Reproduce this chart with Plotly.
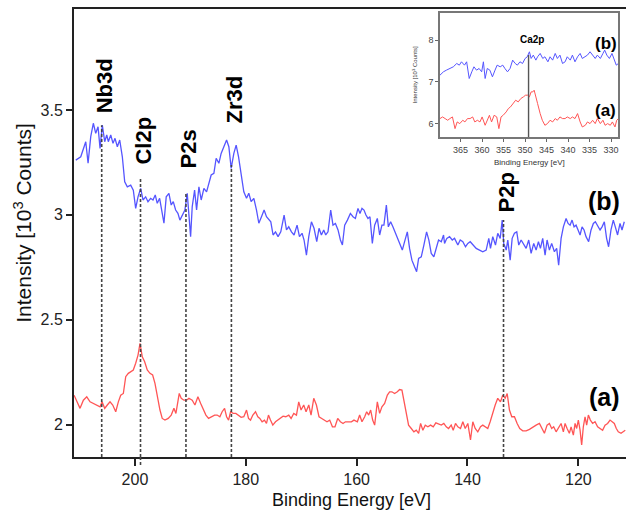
import plotly.graph_objects as go

# ---- main XPS spectra (binding energy in eV, intensity in 10^3 counts) ----
be_b = [210.68, 209.78, 208.88, 208.46, 207.98, 207.51, 207.08, 206.66, 206.30, 205.89,
        205.46, 205.09, 204.81, 204.37, 203.96, 203.60, 203.18, 202.75, 202.28, 201.85,
        201.38, 200.77, 200.30, 199.87, 199.45, 198.97, 198.55, 198.07, 197.65, 197.17,
        196.75, 196.34, 195.98, 195.55, 195.18, 194.77, 194.36, 193.87, 193.46, 193.09,
        192.66, 192.25, 191.89, 191.47, 190.99, 190.57, 190.27, 189.96, 189.67, 189.24,
        188.88, 188.46, 188.05, 187.56, 187.08, 186.66, 186.25, 185.76, 185.35, 184.86,
        184.45, 183.96, 183.47, 183.06, 182.64, 182.16, 181.74, 181.31, 180.84, 180.36,
        179.87, 179.46, 179.04, 178.55, 178.07, 177.65, 177.17, 176.70, 176.27, 175.85,
        175.49, 175.08, 174.64, 174.18, 173.69, 173.09, 172.66, 172.25, 171.76, 171.29,
        170.75, 170.32, 169.85, 169.49, 169.06, 168.64, 168.16, 167.69, 167.20, 166.79,
        166.36, 165.94, 165.58, 165.17, 164.68, 164.27, 163.83, 163.36, 162.93, 162.57,
        162.16, 161.67, 161.13, 160.66, 160.23, 159.76, 159.40, 159.04, 158.68, 158.32,
        157.96, 157.60, 157.17, 156.75, 156.27, 155.85, 155.44, 155.08, 154.64, 154.28,
        153.87, 153.46, 153.02, 152.55, 152.12, 151.76, 151.35, 150.86, 150.45, 150.03,
        149.55, 149.18, 148.82, 148.34, 147.87, 147.38, 146.97, 146.54, 146.07, 145.64,
        145.22, 144.73, 144.32, 144.14, 143.73, 143.24, 142.75, 142.34, 141.74, 141.31,
        140.84, 140.36, 139.94, 139.51, 139.04, 138.43, 137.83, 137.24, 136.63, 136.16,
        135.85, 135.44, 134.95, 134.54, 134.10, 133.74, 133.46, 133.02, 132.73, 132.30,
        131.94, 131.53, 131.11, 130.75, 130.32, 129.91, 129.42, 128.95, 128.52, 128.05,
        127.62, 127.20, 126.84, 126.43, 126.00, 125.64, 125.22, 124.81, 124.32, 123.91,
        123.55, 123.11, 122.70, 122.21, 121.85, 121.49, 121.13, 120.77, 120.41, 120.05,
        119.69, 119.33, 118.97, 118.61, 118.14, 117.71, 117.29, 116.93, 116.52, 116.08,
        115.72, 115.31, 114.90, 114.54, 114.11, 113.69, 113.33, 112.92, 112.48, 112.12,
        111.71]
int_b = [3.261, 3.277, 3.349, 3.247, 3.373, 3.437, 3.389, 3.420, 3.317, 3.428,
         3.349, 3.381, 3.349, 3.381, 3.341, 3.365, 3.325, 3.357, 3.277, 3.158,
         3.134, 3.142, 3.118, 3.031, 3.086, 3.126, 3.071, 3.086, 3.063, 3.079,
         3.071, 3.095, 3.055, 3.079, 3.023, 2.960, 3.086, 3.103, 3.047, 3.063,
         3.023, 3.007, 2.975, 2.999, 3.023, 3.103, 2.975, 2.896, 3.039, 3.118,
         3.023, 3.134, 3.071, 3.126, 3.110, 3.150, 3.190, 3.198, 3.270, 3.246,
         3.293, 3.325, 3.357, 3.325, 3.222, 3.293, 3.333, 3.277, 3.190, 3.110,
         3.079, 3.103, 3.063, 3.079, 3.023, 2.960, 2.991, 3.023, 2.991, 2.975,
         2.967, 2.904, 2.919, 2.896, 2.919, 2.999, 2.928, 2.943, 2.919, 2.904,
         2.951, 2.896, 2.912, 2.880, 2.808, 2.896, 2.967, 2.936, 2.872, 2.936,
         2.904, 2.928, 2.904, 2.919, 3.023, 2.951, 2.959, 2.928, 2.880, 2.856,
         2.951, 2.975, 3.007, 2.991, 2.983, 3.031, 3.007, 3.031, 3.023, 2.999,
         2.983, 2.991, 2.864, 2.951, 2.983, 2.904, 2.951, 2.951, 3.047, 2.943,
         2.967, 2.943, 2.912, 2.888, 2.856, 2.832, 2.872, 2.919, 2.840, 2.784,
         2.752, 2.729, 2.792, 2.800, 2.856, 2.919, 2.880, 2.816, 2.800, 2.840,
         2.880, 2.872, 2.904, 2.864, 2.888, 2.896, 2.880, 2.888, 2.856, 2.880,
         2.872, 2.848, 2.864, 2.872, 2.856, 2.840, 2.832, 2.824, 2.832, 2.888,
         2.840, 2.896, 2.856, 2.912, 2.888, 2.975, 2.864, 2.832, 2.880, 2.784,
         2.888, 2.912, 2.919, 2.856, 2.880, 2.864, 2.840, 2.880, 2.816, 2.864,
         2.832, 2.872, 2.840, 2.888, 2.808, 2.880, 2.832, 2.864, 2.824, 2.840,
         2.760, 2.888, 2.943, 2.983, 2.959, 2.951, 2.975, 2.943, 2.951, 2.928,
         2.904, 2.943, 2.928, 2.896, 2.872, 2.928, 2.959, 2.967, 2.951, 2.928,
         2.943, 2.967, 2.888, 2.848, 2.928, 2.975, 2.943, 2.904, 2.959, 2.928,
         2.967]

be_a = [210.99, 210.50, 209.91, 209.31, 208.70, 208.10, 207.51, 206.90, 206.30, 205.94,
        205.46, 204.99, 204.50, 204.01, 203.47, 203.00, 202.57, 202.10, 201.67, 201.20,
        200.77, 200.30, 199.87, 199.45, 199.09, 198.68, 198.25, 197.78, 197.29, 196.81,
        196.39, 195.98, 195.49, 195.08, 194.59, 194.00, 193.46, 192.97, 192.61, 192.01,
        191.65, 191.17, 190.68, 190.27, 189.67, 189.18, 188.64, 188.16, 187.69, 187.20,
        186.72, 186.12, 185.63, 185.17, 184.68, 184.27, 183.83, 183.47, 183.11, 182.75,
        182.28, 181.80, 181.31, 180.84, 180.36, 179.87, 179.51, 179.15, 178.73, 178.25,
        177.83, 177.47, 177.06, 176.63, 176.27, 175.91, 175.55, 175.13, 174.64, 174.23,
        173.74, 173.28, 172.79, 172.25, 171.83, 171.35, 170.86, 170.45, 170.03, 169.55,
        169.13, 168.64, 168.23, 167.74, 167.26, 166.79, 166.30, 165.82, 165.35, 164.86,
        164.37, 163.91, 163.42, 162.93, 162.46, 162.03, 161.56, 160.95, 160.48, 159.87,
        159.46, 159.04, 158.55, 158.19, 157.83, 157.47, 157.11, 156.75, 156.27, 155.85,
        155.44, 154.95, 154.46, 154.05, 153.64, 153.15, 152.66, 152.25, 151.83, 151.47,
        151.04, 150.63, 150.14, 149.67, 149.24, 148.82, 148.46, 148.05, 147.62, 147.15,
        146.66, 146.18, 145.71, 145.22, 144.73, 144.27, 143.83, 143.42, 142.94, 142.58,
        142.16, 141.74, 141.26, 140.84, 140.41, 139.94, 139.46, 139.04, 138.61, 138.14,
        137.65, 137.24, 136.81, 136.34, 135.91, 135.44, 135.00, 134.54, 134.05, 133.64,
        133.20, 132.84, 132.43, 132.01, 131.53, 131.04, 130.57, 130.03, 129.42, 128.82,
        128.23, 127.62, 127.02, 126.61, 126.12, 125.64, 125.22, 124.81, 124.45, 124.01,
        123.60, 123.11, 122.70, 122.39, 122.03, 121.62, 121.31, 120.90, 120.59, 120.30,
        120.00, 119.69, 119.40, 119.10, 118.79, 118.50, 118.19, 117.83, 117.42, 116.99,
        116.52, 116.03, 115.62, 115.18, 114.72, 114.28, 113.87, 113.51, 113.15, 112.79,
        112.30, 111.83, 111.53]
int_a = [2.140, 2.108, 2.077, 2.116, 2.132, 2.108, 2.101, 2.093, 2.084, 2.108,
         2.077, 2.093, 2.108, 2.093, 2.061, 2.108, 2.140, 2.148, 2.228, 2.244,
         2.251, 2.260, 2.292, 2.331, 2.387, 2.323, 2.299, 2.260, 2.244, 2.236,
         2.196, 2.132, 2.069, 2.029, 2.021, 2.029, 2.045, 2.077, 2.053, 2.148,
         2.125, 2.116, 2.116, 2.125, 2.116, 2.093, 2.132, 2.101, 2.069, 2.045,
         2.029, 2.037, 2.045, 2.045, 2.037, 2.061, 2.077, 2.037, 2.021, 2.061,
         2.053, 2.053, 2.045, 2.034, 2.037, 2.069, 2.029, 2.021, 2.045, 2.061,
         2.037, 2.029, 2.013, 2.021, 2.005, 2.045, 2.021, 1.997, 2.013, 2.021,
         2.034, 2.040, 2.037, 2.045, 2.029, 2.053, 2.045, 2.108, 2.069, 2.093,
         2.061, 2.093, 2.045, 2.125, 2.093, 2.037, 2.029, 2.021, 2.013, 2.021,
         1.989, 1.989, 2.029, 2.013, 2.005, 2.013, 2.013, 2.013, 2.021, 2.013,
         2.045, 2.013, 2.037, 2.061, 2.045, 2.069, 2.021, 1.997, 2.108, 2.053,
         2.084, 2.101, 2.140, 2.156, 2.156, 2.148, 2.156, 2.167, 2.164, 2.116,
         2.053, 1.997, 1.981, 1.965, 1.973, 1.958, 2.005, 1.973, 1.997, 1.989,
         1.997, 1.989, 2.008, 2.002, 1.997, 2.005, 1.989, 1.981, 1.997, 1.973,
         2.005, 1.989, 1.981, 2.013, 1.981, 2.005, 1.926, 2.013, 1.981, 1.965,
         1.989, 1.997, 1.989, 1.981, 2.013, 2.061, 2.093, 2.125, 2.108, 2.140,
         2.125, 2.148, 2.069, 2.037, 2.037, 2.005, 1.981, 1.970, 1.970, 1.977,
         1.989, 1.997, 2.005, 1.981, 1.958, 1.997, 2.005, 1.981, 1.989, 1.965,
         1.981, 2.005, 1.965, 2.005, 1.981, 1.958, 1.989, 1.949, 2.005, 1.981,
         2.021, 1.973, 1.902, 1.989, 2.037, 1.997, 2.045, 2.021, 2.005, 2.013,
         1.989, 1.981, 1.973, 1.997, 2.005, 2.021, 2.013, 2.005, 1.981, 1.965,
         1.958, 1.965, 1.973]

# ---- peak assignments: position, top of marker line, label baseline ----
peak_names = ["Nb3d", "Cl2p", "P2s", "Zr3d", "P2p"]
peak_be = [206.0, 199.0, 190.8, 182.6, 133.5]
peak_top = [3.428, 3.176, 3.109, 3.238, 2.975]
label_base = [3.476, 3.228, 3.214, 3.428, 3.000]

# ---- Ca2p region (inset) ----
be_ca = [369.8, 369.2, 368.6, 368.0, 367.5, 366.9, 366.3, 365.8, 365.2, 364.5,
         364.0, 363.4, 362.8, 362.2, 361.7, 361.1, 360.5, 360.0, 359.3, 358.8,
         358.3, 357.8, 357.2, 356.6, 356.1, 355.6, 355.1, 354.4, 353.9, 353.4,
         352.7, 352.2, 351.6, 351.0, 350.4, 349.9, 349.4, 349.0, 348.6, 348.2,
         347.9, 347.5, 347.1, 346.5, 346.0, 345.4, 344.8, 344.2, 343.6, 343.0,
         342.5, 341.9, 341.3, 340.7, 340.2, 339.5, 339.0, 338.4, 337.8, 337.2,
         336.7, 336.0, 335.5, 334.9, 334.3, 333.7, 333.2, 332.5, 331.9, 331.4,
         330.8, 330.2, 329.7, 329.1, 328.7, 328.3]
ca_a = [6.12, 6.16, 6.12, 6.08, 6.12, 6.16, 5.88, 6.04, 6.00, 6.08,
        6.04, 6.12, 6.12, 6.16, 6.04, 6.08, 6.04, 6.16, 5.96, 6.08,
        6.20, 6.04, 6.20, 6.16, 5.88, 6.16, 6.20, 6.28, 6.36, 6.40,
        6.48, 6.56, 6.52, 6.60, 6.64, 6.68, 6.68, 6.64, 6.76, 6.76,
        6.80, 6.60, 6.48, 6.24, 6.08, 5.96, 6.00, 6.08, 6.04, 6.12,
        6.08, 6.16, 6.12, 6.12, 6.16, 6.12, 6.16, 6.12, 6.24, 6.04,
        5.92, 5.96, 6.04, 6.00, 6.08, 6.00, 6.12, 6.00, 6.08, 5.96,
        6.00, 5.96, 6.04, 5.92, 6.08, 6.12]
be_cb = [369.8, 369.0, 368.3, 367.5, 366.7, 365.9, 365.3, 364.8, 364.1, 363.6,
         363.0, 362.4, 361.9, 361.3, 360.7, 360.1, 359.7, 359.3, 358.8, 358.2,
         357.6, 357.0, 356.5, 355.8, 355.2, 354.7, 354.1, 353.5, 352.9, 352.3,
         351.8, 351.2, 350.6, 350.0, 349.5, 349.0, 348.6, 348.1, 347.5, 347.1,
         346.5, 345.9, 345.4, 344.7, 344.2, 343.6, 343.0, 342.5, 341.9, 341.3,
         340.7, 340.2, 339.5, 339.0, 338.4, 337.8, 337.2, 336.7, 336.0, 335.5,
         334.9, 334.3, 333.7, 333.2, 332.5, 331.9, 331.5, 331.0, 330.4, 329.8,
         329.3, 328.8, 328.3]
ca_b = [7.16, 7.24, 7.28, 7.32, 7.36, 7.44, 7.40, 7.48, 7.40, 7.48,
        7.08, 7.24, 7.36, 7.28, 7.32, 7.24, 7.48, 7.08, 7.32, 7.28,
        7.12, 7.28, 7.40, 7.36, 7.40, 7.32, 7.24, 7.32, 7.52, 7.44,
        7.40, 7.48, 7.44, 7.56, 7.60, 7.72, 7.56, 7.64, 7.52, 7.60,
        7.68, 7.56, 7.60, 7.48, 7.60, 7.52, 7.68, 7.56, 7.64, 7.44,
        7.48, 7.60, 7.52, 7.64, 7.48, 7.60, 7.68, 7.56, 7.60, 7.64,
        7.72, 7.64, 7.56, 7.64, 7.56, 7.68, 7.76, 7.64, 7.56, 7.68,
        7.52, 7.40, 7.44]
ca_be = 349.2

main_ticks = [200, 180, 160, 140, 120]
main_yticks = [2, 2.5, 3, 3.5]
inset_ticks = [365, 360, 355, 350, 345, 340, 335, 330]
inset_yticks = [6, 7, 8]

BLUE = "rgb(85,85,255)"
RED = "rgb(255,85,85)"
FONT = "Liberation Sans, Arial, sans-serif"

fig = go.Figure()
fig.add_trace(go.Scatter(x=be_b, y=int_b, mode="lines",
                         line=dict(color=BLUE, width=1.3), showlegend=False))
fig.add_trace(go.Scatter(x=be_a, y=int_a, mode="lines",
                         line=dict(color=RED, width=1.3), showlegend=False))
fig.add_trace(go.Scatter(x=be_cb, y=ca_b, mode="lines", xaxis="x2", yaxis="y2",
                         line=dict(color=BLUE, width=1.0), showlegend=False))
fig.add_trace(go.Scatter(x=be_ca, y=ca_a, mode="lines", xaxis="x2", yaxis="y2",
                         line=dict(color=RED, width=1.0), showlegend=False))

# dashed peak markers and their rotated labels
for name, be, top, base in zip(peak_names, peak_be, peak_top, label_base):
    fig.add_shape(type="line", xref="x", yref="y", x0=be, x1=be, y0=1.845, y1=top,
                  line=dict(color="#444", width=1.6, dash="3px,2px"))
    fig.add_annotation(x=be, y=base, xref="x", yref="y", text=name, textangle=-90,
                       showarrow=False, xanchor="center", yanchor="bottom", xshift=3,
                       font=dict(family=FONT, size=22, color="black", weight="bold"))

# the Cl2p marker runs a little past the energy axis
fig.add_shape(type="line", xref="x", yref="paper", x0=peak_be[1], x1=peak_be[1],
              y0=0.0, y1=-0.022, line=dict(color="#444", width=1.6, dash="3px,2px"))

# Ca2p marker in the inset
fig.add_shape(type="line", xref="x2", yref="y2", x0=ca_be, x1=ca_be, y0=5.676, y1=7.64,
              line=dict(color="#555", width=1.4))
fig.add_annotation(x=348.5, y=7.84, xref="x2", yref="y2", text="Ca2p", showarrow=False,
                   xanchor="center", yanchor="bottom",
                   font=dict(family=FONT, size=10, color="black", weight="bold"))

# series tags
for txt, yy in [("(b)", 3.066), ("(a)", 2.131)]:
    fig.add_annotation(x=115.3, y=yy, xref="x", yref="y", text=txt, showarrow=False,
                       xanchor="center", yanchor="middle",
                       font=dict(family=FONT, size=25, color="black", weight="bold"))
for txt, yy in [("(b)", 7.92), ("(a)", 6.32)]:
    fig.add_annotation(x=331.2, y=yy, xref="x2", yref="y2", text=txt, showarrow=False,
                       xanchor="center", yanchor="middle",
                       font=dict(family=FONT, size=17, color="black", weight="bold"))

# axis titles
fig.add_annotation(x=0.502, y=-0.096, xref="paper", yref="paper",
                   text="Binding Energy [eV]", showarrow=False,
                   xanchor="center", yanchor="middle",
                   font=dict(family=FONT, size=18, color="#111"))
fig.add_annotation(x=-0.093, y=0.522, xref="paper", yref="paper",
                   text="Intensity [10<sup>3</sup> Counts]", textangle=-90, showarrow=False,
                   xanchor="center", yanchor="middle",
                   font=dict(family=FONT, size=21, color="#111"))
fig.add_annotation(x=0.8247, y=0.657, xref="paper", yref="paper",
                   text="Binding Energy [eV]", showarrow=False,
                   xanchor="center", yanchor="middle",
                   font=dict(family=FONT, size=8, color="#333"))
fig.add_annotation(x=0.618, y=0.852, xref="paper", yref="paper",
                   text="Intensity [10<sup>3</sup> Counts]", textangle=-90, showarrow=False,
                   xanchor="center", yanchor="middle",
                   font=dict(family=FONT, size=6, color="#333"))

fig.update_layout(
    width=626, height=523, autosize=False,
    margin=dict(l=74, r=0, t=9, b=66),
    paper_bgcolor="white", plot_bgcolor="white",
    font=dict(family=FONT, color="#222"),
    xaxis=dict(range=[211.0, 111.4], tickvals=main_ticks, ticks="outside", ticklen=7,
               tickwidth=1.5, tickcolor="#222", showline=True, linewidth=2,
               linecolor="#222", mirror=True, showgrid=False, zeroline=False,
               tickfont=dict(size=16, color="#222")),
    yaxis=dict(range=[1.845, 3.982], tickvals=main_yticks, ticks="outside", ticklen=6,
               tickwidth=1.5, tickcolor="#222", showline=True, linewidth=2,
               linecolor="#222", showgrid=False, zeroline=False,
               tickfont=dict(size=16, color="#222")),
    xaxis2=dict(domain=[0.663, 0.9855], anchor="y2", range=[369.8, 328.4],
                tickvals=inset_ticks, ticks="outside", ticklen=3, tickwidth=1,
                tickcolor="#666", showline=True, linewidth=1.5, linecolor="#777",
                mirror=True, showgrid=False, zeroline=False,
                tickfont=dict(size=9, color="#444")),
    yaxis2=dict(domain=[0.714, 0.991], anchor="x2", range=[5.676, 8.648],
                tickvals=inset_yticks, ticks="outside", ticklen=3, tickwidth=1,
                tickcolor="#666", showline=True, linewidth=1.5, linecolor="#777",
                mirror=True, showgrid=False, zeroline=False,
                tickfont=dict(size=9, color="#444")),
)

fig.write_html("out.html")
